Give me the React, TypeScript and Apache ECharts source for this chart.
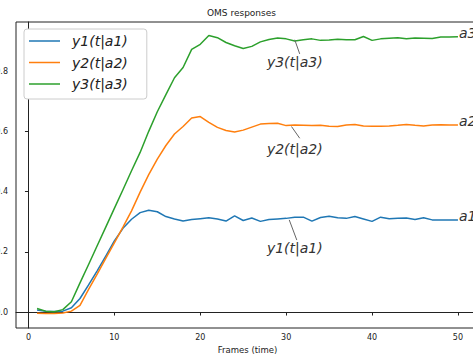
import React, { useEffect, useRef } from "react";
import * as echarts from "echarts";

const frames = [1, 2, 3, 4, 5, 6, 7, 8, 9, 10, 11, 12, 13, 14, 15, 16, 17, 18, 19, 20, 21, 22, 23, 24, 25, 26, 27, 28, 29, 30, 31, 32, 33, 34, 35, 36, 37, 38, 39, 40, 41, 42, 43, 44, 45, 46, 47, 48, 49, 50];

const y1 = [0.007, 0.003, 0.002, 0.003, 0.014, 0.045, 0.09, 0.137, 0.186, 0.236, 0.278, 0.308, 0.33, 0.338, 0.333, 0.317, 0.309, 0.302, 0.307, 0.31, 0.313, 0.309, 0.302, 0.319, 0.304, 0.312, 0.301, 0.307, 0.309, 0.311, 0.315, 0.315, 0.302, 0.314, 0.318, 0.313, 0.311, 0.317, 0.309, 0.301, 0.315, 0.31, 0.311, 0.312, 0.307, 0.313, 0.306, 0.306, 0.306, 0.306];

const y2 = [-0.004, -0.005, -0.005, -0.003, 0.003, 0.022, 0.075, 0.126, 0.178, 0.23, 0.282, 0.336, 0.398, 0.456, 0.508, 0.553, 0.591, 0.616, 0.644, 0.649, 0.63, 0.613, 0.603, 0.598, 0.604, 0.614, 0.624, 0.626, 0.627, 0.619, 0.621, 0.62, 0.619, 0.62, 0.617, 0.616, 0.621, 0.623, 0.618, 0.617, 0.617, 0.618, 0.62, 0.623, 0.62, 0.618, 0.621, 0.622, 0.621, 0.621];

const y3 = [0.012, 0.003, 0.001, 0.008, 0.034, 0.097, 0.158, 0.22, 0.282, 0.344, 0.406, 0.469, 0.53, 0.6, 0.665, 0.722, 0.778, 0.812, 0.872, 0.889, 0.918, 0.911, 0.895, 0.884, 0.875, 0.882, 0.897, 0.905, 0.91, 0.907, 0.9, 0.904, 0.907, 0.902, 0.903, 0.906, 0.904, 0.904, 0.915, 0.902, 0.907, 0.909, 0.911, 0.907, 0.91, 0.909, 0.908, 0.913, 0.913, 0.914];

const seriesNames = ["y1(t|a1)", "y2(t|a2)", "y3(t|a3)"];
const endTags = ["a1", "a2", "a3"];
const xTicks = [0, 10, 20, 30, 40, 50];
const yTicks = [0, 0.2, 0.4, 0.6, 0.8];

// annotation anchors (on curve), connector ends, and text positions, in data units
const annoAnchorX = [30.36, 30.62, 31.0];
const annoAnchorY = [0.306, 0.616, 0.904];
const annoEndX = [31.24, 31.58, 31.58];
const annoEndY = [0.239, 0.577, 0.857];
const annoTextX = [27.7, 27.7, 27.7];
const annoTextY = [0.212, 0.542, 0.831];

const colors = ["#1f77b4", "#ff7f0e", "#2ca02c"];
const FONT = "DejaVu Sans";

export default function App() {
  const ref = useRef<HTMLDivElement>(null);
  useEffect(() => {
    if (!ref.current) return;
    const chart = echarts.init(ref.current, null, { renderer: "svg" });
    const values = [y1, y2, y3];
    const series = values.map((vals, i) => ({
      type: "line",
      name: seriesNames[i],
      data: frames.map((f, j) => [f, vals[j]]),
      showSymbol: false,
      symbol: "none",
      lineStyle: { color: colors[i], width: 1.5 },
      itemStyle: { color: colors[i] },
      clip: false,
      endLabel: {
        show: true,
        formatter: endTags[i],
        distance: 1,
        offset: [0, -4],
        fontFamily: FONT,
        fontStyle: "italic",
        fontSize: 14,
        color: "#333",
      },
      markLine: {
        silent: true,
        symbol: ["none", "none"],
        label: { show: false },
        lineStyle: { color: "#666", width: 1, type: "solid" },
        emphasis: { disabled: true },
        data: [[{ coord: [annoAnchorX[i], annoAnchorY[i]] }, { coord: [annoEndX[i], annoEndY[i]] }]],
      },
      markPoint: {
        silent: true,
        symbol: "rect",
        symbolSize: 1,
        itemStyle: { color: "rgba(0,0,0,0)" },
        label: {
          show: true,
          position: "right",
          distance: 0,
          formatter: seriesNames[i],
          fontFamily: FONT,
          fontStyle: "italic",
          fontSize: 14,
          color: "#333",
        },
        data: [{ coord: [annoTextX[i], annoTextY[i]] }],
      },
    }));

    chart.setOption({
      animation: false,
      title: {
        text: "OMS responses",
        left: 207,
        top: 8,
        padding: 0,
        textStyle: { fontFamily: FONT, fontSize: 9, fontWeight: "normal", color: "#222" },
      },
      legend: {
        orient: "vertical",
        left: 24,
        top: 29,
        backgroundColor: "#fff",
        borderColor: "#ccc",
        borderWidth: 1,
        borderRadius: 3,
        padding: [4, 19, 7, 5],
        itemWidth: 31,
        itemHeight: 1.5,
        itemGap: 5.5,
        icon: "rect",
        data: seriesNames,
        textStyle: {
          fontFamily: FONT,
          fontStyle: "italic",
          fontSize: 14,
          lineHeight: 16,
          color: "#222",
          padding: [0, 0, 0, 7],
        },
      },
      grid: {
        left: 16,
        right: -6,
        top: 22,
        bottom: 26,
        show: true,
        borderColor: "#222",
        borderWidth: 1,
        containLabel: false,
        outerBoundsMode: "none",
      },
      xAxis: {
        type: "value",
        min: -1.45,
        max: 52.45,
        name: "Frames (time)",
        nameLocation: "middle",
        nameGap: 16,
        nameTextStyle: { fontFamily: FONT, fontSize: 8.5, color: "#222" },
        axisLine: { show: true, lineStyle: { color: "#222", width: 1 } },
        axisTick: { show: true, length: 3.5, customValues: xTicks, lineStyle: { color: "#222" } },
        axisLabel: { customValues: xTicks, margin: 5, fontFamily: FONT, fontSize: 8, color: "#222" },
        splitLine: { show: false },
      },
      yAxis: {
        type: "value",
        min: -0.053,
        max: 0.963,
        axisLine: { show: true, lineStyle: { color: "#222", width: 1 } },
        axisTick: { show: true, length: 3.5, customValues: yTicks, lineStyle: { color: "#222" } },
        axisLabel: {
          customValues: yTicks,
          margin: 8,
          fontFamily: FONT,
          fontSize: 8,
          color: "#222",
          formatter: (v: number) => v.toFixed(1),
        },
        splitLine: { show: false },
      },
      series,
    });
    return () => chart.dispose();
  }, []);
  return (
    <div
      ref={ref}
      style={{ position: "absolute", left: 0, top: 0, width: 473, height: 354, background: "#fff" }}
    />
  );
}
